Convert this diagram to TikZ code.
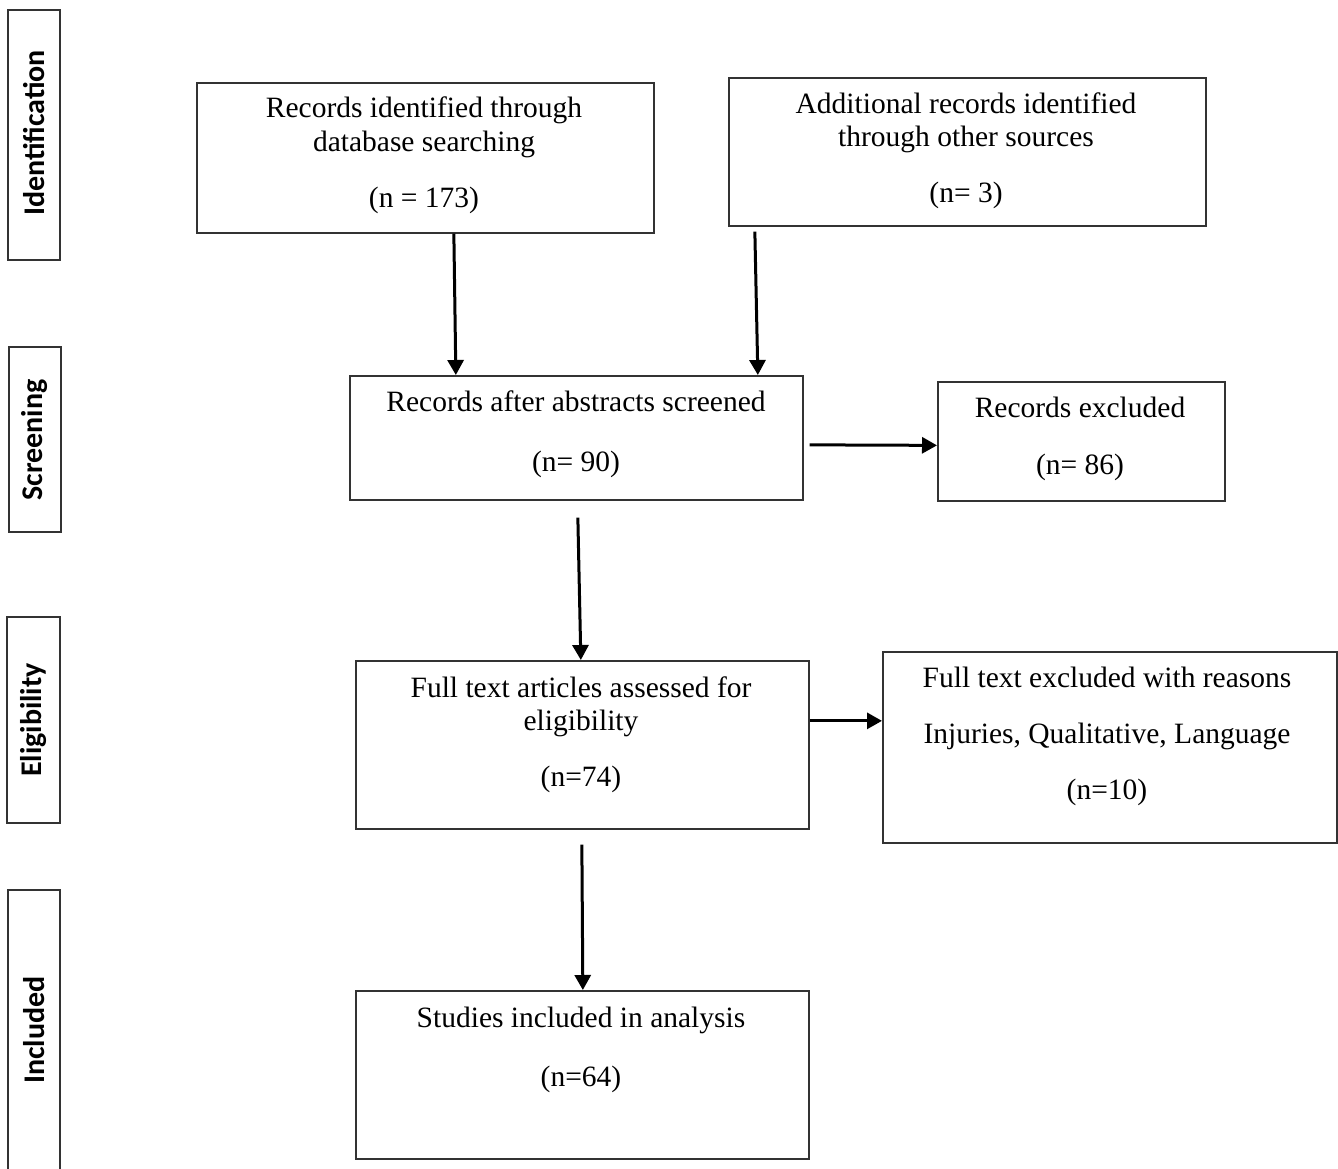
\documentclass[tikz,border=0pt]{standalone}
\usepackage{fontspec}
\setmainfont{Liberation Serif}
\newfontfamily\labfont{Carlito}
\usetikzlibrary{arrows.meta}
\tikzset{
  box/.style={draw=black!80, line width=1.7pt, rectangle, inner sep=0pt, anchor=north west},
  txt/.style={font=\fontsize{29.5}{34}\selectfont, inner sep=0pt, text height=0.68em, text depth=0.2em, yshift=-7pt},
  lab/.style={font=\labfont\bfseries\fontsize{30}{34}\selectfont, rotate=90, inner sep=0pt},
  side/.style={draw=black!80, line width=1.7pt},
  arr/.style={draw=black, line width=3pt, -{Triangle[length=15pt,width=16pt]}}
}
\begin{document}
\begin{tikzpicture}[x=1pt,y=-1pt]
\useasboundingbox (0,0) rectangle (1338,1168);
% stage labels
\draw[side] (8,10) rectangle (60,260);
\node[lab] (lid) at (34,133) {Identification};
\draw[side] (9,347) rectangle (61,532);
\node[lab] (lsc) at (35,440) {Screening};
\draw[side] (7,617) rectangle (60,823);
\node[lab] (lel) at (34,720) {Eligibility};
\draw[side] (8,1175) -- (8,890) -- (60,890) -- (60,1175);
\node[lab] (lin) at (34,1030) {Included};
% boxes
\node[box, minimum width=457pt, minimum height=150pt] (A) at (196,82) {};
\node[box, minimum width=477pt, minimum height=148pt] (B) at (728,77) {};
\node[box, minimum width=453pt, minimum height=124pt] (C) at (349,375) {};
\node[box, minimum width=287pt, minimum height=119pt] (D) at (937,381) {};
\node[box, minimum width=453pt, minimum height=168pt] (E) at (355,660) {};
\node[box, minimum width=454pt, minimum height=191pt] (F) at (882,651) {};
\node[box, minimum width=453pt, minimum height=168pt] (G) at (355,990) {};
% texts
\node[txt] (a1) at (424,108) {Records identified through};
\node[txt] (a2) at (424,142) {database searching};
\node[txt] (a3) at (424,198) {(n = 173)};
\node[txt] (b1) at (966,104) {Additional records identified};
\node[txt] (b2) at (966,137) {through other sources};
\node[txt] (b3) at (966,193) {(n= 3)};
\node[txt] (c1) at (576,402) {Records after abstracts screened};
\node[txt] (c2) at (576,462) {(n= 90)};
\node[txt] (d1) at (1080,408) {Records excluded};
\node[txt] (d2) at (1080,465) {(n= 86)};
\node[txt] (e1) at (581,688) {Full text articles assessed for};
\node[txt] (e2) at (581,721) {eligibility};
\node[txt] (e3) at (581,777) {(n=74)};
\node[txt] (f1) at (1107,678) {Full text excluded with reasons};
\node[txt] (f2) at (1107,734) {Injuries, Qualitative, Language};
\node[txt] (f3) at (1107,790) {(n=10)};
\node[txt] (g1) at (581,1018) {Studies included in analysis};
\node[txt] (g2) at (581,1077) {(n=64)};
% arrows
\draw[arr] ([xshift=28.5pt]A.south) -- ([xshift=-120.5pt]C.north);
\draw[arr] ([xshift=-212.5pt,yshift=-5pt]B.south) -- ([xshift=181.5pt]C.north);
\draw[arr] ([xshift=6pt,yshift=-7pt]C.east) -- ([yshift=-4pt]D.west);
\draw[arr] ([xshift=1.5pt,yshift=-17pt]C.south) -- ([xshift=-1.5pt]E.north);
\draw[arr] ([yshift=24pt]E.east) -- ([yshift=26.5pt]F.west);
\draw[arr] ([xshift=-0.5pt,yshift=-15pt]E.south) -- ([xshift=0.5pt]G.north);
\end{tikzpicture}
\end{document}
